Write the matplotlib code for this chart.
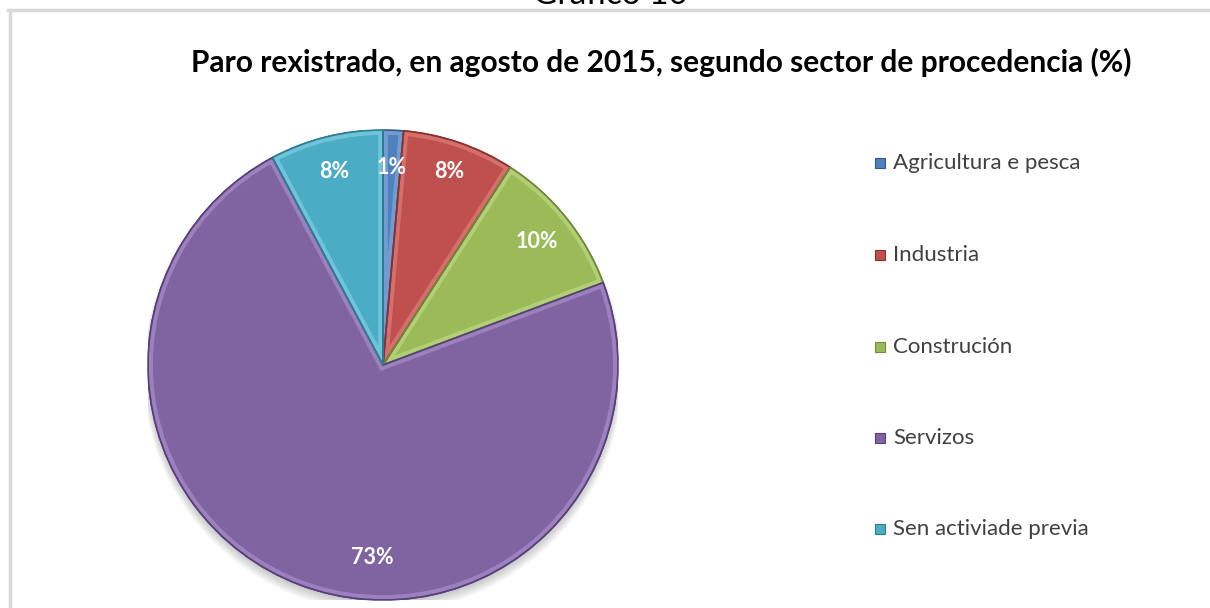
import numpy as np
import matplotlib
matplotlib.use("Agg")
import matplotlib.pyplot as plt
from matplotlib.lines import Line2D
from matplotlib.patches import Wedge

# data
sectors = ["Agricultura e pesca", "Industria", "Construción", "Servizos", "Sen activiade previa"]
shares = [1.4, 7.7, 10.2, 72.9, 7.8]
pct_labels = ["1%", "8%", "10%", "73%", "8%"]
colors = ["#4F81BD", "#C0504D", "#9BBB59", "#8064A2", "#4BACC6"]
edge_colors = ["#2f5a8c", "#8c2f2d", "#6f8a38", "#55407a", "#2e7f96"]
light_colors = ["#8fb3e0", "#e58a87", "#c6e08f", "#b49ad6", "#8fd8ea"]

title = "Paro rexistrado, en agosto de 2015, segundo sector de procedencia (%)"
caption = "Gráfico 10"

W, H = 1210, 608
fig = plt.figure(figsize=(W / 100, H / 100), dpi=100)
fig.patch.set_facecolor("white")

# frame of the chart area (top and left edges only are visible)
fig.add_artist(Line2D([8 / W, 1], [1 - 10 / H, 1 - 10 / H], color="#d9d9d9", lw=2.5))
fig.add_artist(Line2D([9.5 / W, 9.5 / W], [0, 1 - 10 / H], color="#d9d9d9", lw=2.5))

# caption cut by the top edge, as in the reference
fig.text(610 / W, 1 - 4 / H, caption, ha="center", va="baseline",
         fontsize=24, family="Lato", color="black")

fig.text(661 / W, 1 - 62 / H, title, ha="center", va="center",
         fontsize=21.5, family="Lato", fontweight="bold", color="black")

# pie axes, centre (383, 365) px, radius 235 px
cx, cy, r = 383, 365, 235
ax = fig.add_axes([(cx - r) / W, (H - cy - r) / H, 2 * r / W, 2 * r / H])

# soft shadow under the pie
for k in range(6):
    sh = plt.Circle((0.0, -0.012 - 0.004 * k), 1.0 + 0.004 * k, color="black",
                    alpha=0.035, zorder=0, lw=0)
    ax.add_patch(sh)

wedges, _ = ax.pie(shares, colors=colors, startangle=90, counterclock=False,
                   radius=1.0, wedgeprops=dict(linewidth=1.2))
for w, ec, lc in zip(wedges, edge_colors, light_colors):
    w.set_edgecolor(ec)
    w.set_zorder(2)
    # bevel-like light band just inside each slice's edges
    hl = Wedge(w.center, w.r, w.theta1, w.theta2, facecolor="none",
               edgecolor=lc, lw=7, alpha=0.55, zorder=3)
    ax.add_patch(hl)
    hl.set_clip_path(w)
    rim = Wedge(w.center, w.r, w.theta1, w.theta2, facecolor="none",
                edgecolor=ec, lw=1.2, zorder=4)
    ax.add_patch(rim)
ax.set_xlim(-1, 1)
ax.set_ylim(-1, 1)
ax.set_aspect("equal")
ax.axis("off")

# percentage labels at slice middles; the big slice label sits near the bottom
cum = np.cumsum([0] + shares)
label_r = [0.84, 0.87, 0.84, 0.82, 0.85]
for i, lab in enumerate(pct_labels):
    mid = (cum[i] + cum[i + 1]) / 2 / 100 * 2 * np.pi
    if shares[i] > 50:
        mid = np.pi + 0.057
    x = np.sin(mid) * label_r[i]
    y = np.cos(mid) * label_r[i]
    ax.text(x, y, lab, ha="center", va="center", fontsize=15.5, family="Lato",
            fontweight="bold", color="white", zorder=5)

# legend
leg_y = [163, 255, 347, 438, 529]
for name, col, ec, yy in zip(sectors, colors, edge_colors, leg_y):
    fig.patches.append(plt.Rectangle((875 / W, (H - yy - 5) / H), 10 / W, 10 / H,
                                     transform=fig.transFigure, facecolor=col,
                                     edgecolor=ec, lw=0.8))
    fig.text(893 / W, 1 - yy / H, name, ha="left", va="center",
             fontsize=16, family="Lato", color="#404040")

fig.savefig("out.png", dpi=100, facecolor="white")
